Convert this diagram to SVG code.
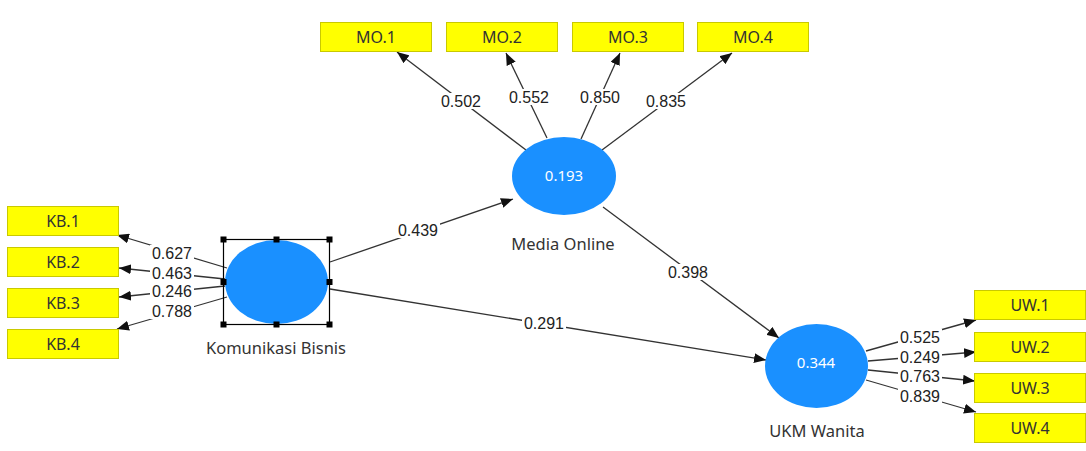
<svg xmlns="http://www.w3.org/2000/svg" width="1086" height="451" viewBox="0 0 1086 451">
<defs>
<marker id="arr" viewBox="0 0 12 10" refX="12" refY="5" markerWidth="12" markerHeight="10" markerUnits="userSpaceOnUse" orient="auto">
<path d="M0,0 L12,5 L0,10 z" fill="#111"/>
</marker>
<style>
.ind rect{fill:#ffff00;stroke:#c9c900;stroke-width:1}
.ind text{font-family:"Noto Sans","Open Sans",sans-serif;font-size:16px;fill:#333;text-anchor:middle;dominant-baseline:central}
.lv ellipse{fill:#1a90ff}
.lv text.v{font-family:"Noto Sans","Open Sans",sans-serif;font-size:15px;fill:#ffffff;text-anchor:middle;dominant-baseline:central}
.lv text.n{font-family:"Noto Sans","Open Sans",sans-serif;font-size:16.5px;fill:#333;text-anchor:middle;dominant-baseline:central}
.conn line{stroke:#333;stroke-width:1.3;marker-end:url(#arr)}
.conn rect{fill:#fff}
.conn text{font-family:"Liberation Sans",Arial,sans-serif;font-size:16px;fill:#222;text-anchor:middle;dominant-baseline:central}
.sel rect.h{fill:#000}
</style>
</defs>
<rect width="1086" height="451" fill="#fff"/>
<g class="conn" id="connectors">
<line x1="227" y1="268" x2="117" y2="235"/>
<line x1="225" y1="279" x2="119" y2="268"/>
<line x1="225" y1="286" x2="119" y2="297"/>
<line x1="227" y1="297" x2="117" y2="329"/>
<line x1="526" y1="150" x2="397" y2="52"/>
<line x1="547" y1="138" x2="506" y2="53"/>
<line x1="581" y1="139" x2="620" y2="53"/>
<line x1="602" y1="150" x2="732" y2="53"/>
<line x1="330" y1="262" x2="513" y2="199"/>
<line x1="330" y1="289" x2="766" y2="360"/>
<line x1="603" y1="207" x2="779" y2="338"/>
<line x1="866" y1="351" x2="976" y2="320"/>
<line x1="868" y1="361" x2="976" y2="352"/>
<line x1="868" y1="370" x2="975" y2="381"/>
<line x1="866" y1="380" x2="976" y2="412"/>
<rect x="150" y="245" width="44" height="16"/>
<rect x="150" y="265" width="44" height="16"/>
<rect x="150" y="283" width="44" height="16"/>
<rect x="150" y="303" width="44" height="16"/>
<rect x="439" y="93" width="44" height="16"/>
<rect x="507" y="89" width="44" height="16"/>
<rect x="578" y="89" width="44" height="16"/>
<rect x="644" y="93" width="44" height="16"/>
<rect x="396" y="222" width="44" height="16"/>
<rect x="522" y="315" width="44" height="16"/>
<rect x="666" y="264" width="44" height="16"/>
<rect x="898" y="329" width="44" height="16"/>
<rect x="898" y="349" width="44" height="16"/>
<rect x="898" y="368" width="44" height="16"/>
<rect x="898" y="388" width="44" height="16"/>
<text x="172" y="253">0.627</text>
<text x="172" y="273">0.463</text>
<text x="172" y="291">0.246</text>
<text x="172" y="311">0.788</text>
<text x="461" y="101">0.502</text>
<text x="529" y="97">0.552</text>
<text x="600" y="97">0.850</text>
<text x="666" y="101">0.835</text>
<text x="418" y="230">0.439</text>
<text x="544" y="323">0.291</text>
<text x="688" y="272">0.398</text>
<text x="920" y="337">0.525</text>
<text x="920" y="357">0.249</text>
<text x="920" y="376">0.763</text>
<text x="920" y="396">0.839</text>
</g>
<g class="ind" id="KB1"><rect x="7.5" y="206.5" width="111" height="29"/><text x="63" y="221">KB.1</text></g>
<g class="ind" id="KB2"><rect x="7.5" y="247.5" width="111" height="29"/><text x="63" y="262">KB.2</text></g>
<g class="ind" id="KB3"><rect x="7.5" y="288.5" width="111" height="29"/><text x="63" y="303">KB.3</text></g>
<g class="ind" id="KB4"><rect x="7.5" y="329.5" width="111" height="29"/><text x="63" y="344">KB.4</text></g>
<g class="ind" id="MO1"><rect x="320.5" y="22.5" width="111" height="29"/><text x="376" y="37">MO.1</text></g>
<g class="ind" id="MO2"><rect x="446.5" y="22.5" width="111" height="29"/><text x="502" y="37">MO.2</text></g>
<g class="ind" id="MO3"><rect x="572.5" y="22.5" width="111" height="29"/><text x="628" y="37">MO.3</text></g>
<g class="ind" id="MO4"><rect x="697.5" y="22.5" width="111" height="29"/><text x="753" y="37">MO.4</text></g>
<g class="ind" id="UW1"><rect x="974.5" y="290.5" width="111" height="29"/><text x="1030" y="305">UW.1</text></g>
<g class="ind" id="UW2"><rect x="974.5" y="332.5" width="111" height="29"/><text x="1030" y="347">UW.2</text></g>
<g class="ind" id="UW3"><rect x="974.5" y="373.5" width="111" height="29"/><text x="1030" y="388">UW.3</text></g>
<g class="ind" id="UW4"><rect x="974.5" y="413.5" width="111" height="29"/><text x="1030" y="428">UW.4</text></g>
<g class="lv" id="KomunikasiBisnis">
<ellipse cx="276.5" cy="282" rx="51.5" ry="42"/>
<text class="n" x="276" y="347">Komunikasi Bisnis</text>
<g class="sel">
<rect x="223.5" y="239.5" width="106" height="85" fill="none" stroke="#000" stroke-width="1.2"/>
<rect class="h" x="220.5" y="236.5" width="6" height="6"/>
<rect class="h" x="273.5" y="236.5" width="6" height="6"/>
<rect class="h" x="326.5" y="236.5" width="6" height="6"/>
<rect class="h" x="220.5" y="279" width="6" height="6"/>
<rect class="h" x="326.5" y="279" width="6" height="6"/>
<rect class="h" x="220.5" y="321.5" width="6" height="6"/>
<rect class="h" x="273.5" y="321.5" width="6" height="6"/>
<rect class="h" x="326.5" y="321.5" width="6" height="6"/>
</g>
</g>
<g class="lv" id="MediaOnline">
<ellipse cx="564" cy="176" rx="52" ry="39"/>
<text class="v" x="564" y="175">0.193</text>
<text class="n" x="563" y="243">Media Online</text>
</g>
<g class="lv" id="UKMWanita">
<ellipse cx="816.5" cy="366" rx="51.5" ry="42"/>
<text class="v" x="816" y="362">0.344</text>
<text class="n" x="817" y="430">UKM Wanita</text>
</g>
</svg>
